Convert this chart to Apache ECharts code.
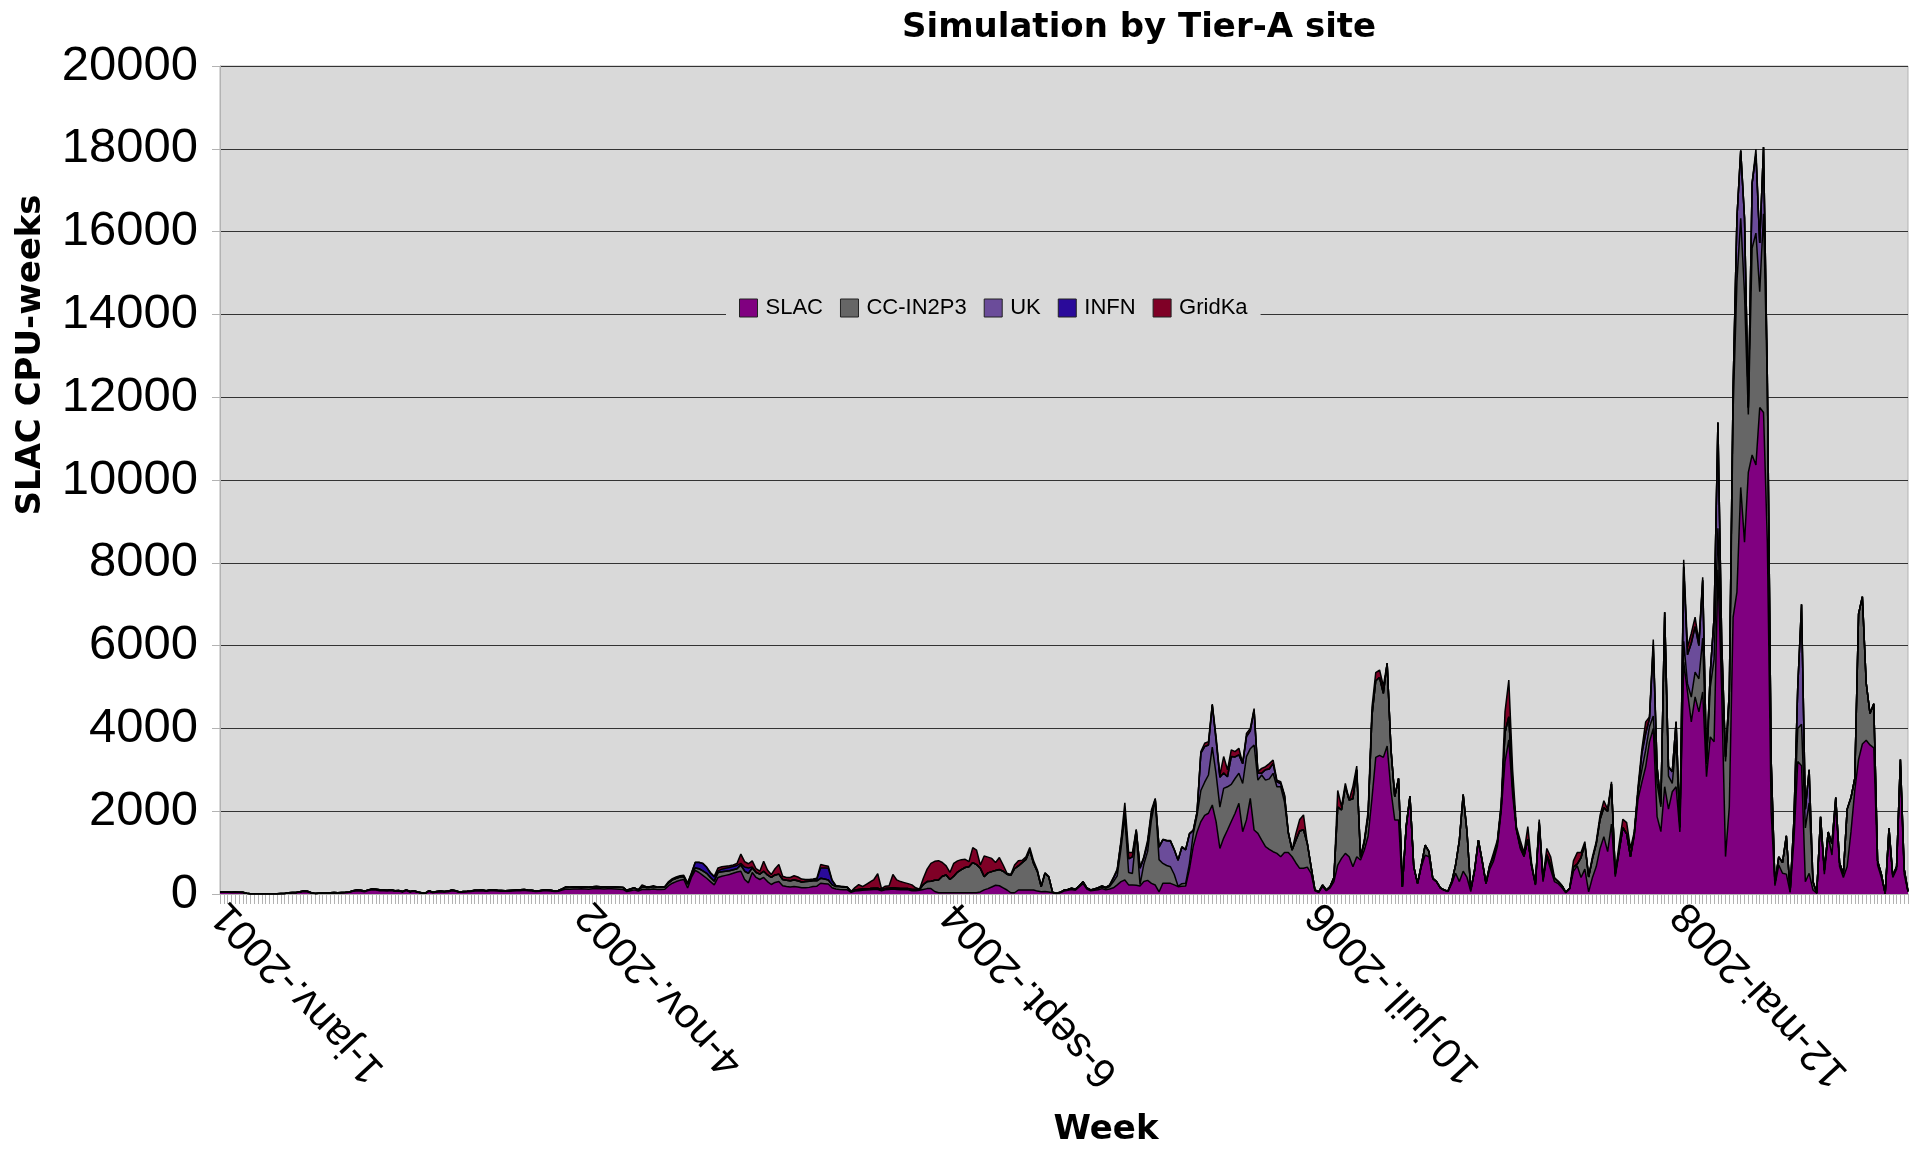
<!DOCTYPE html>
<html><head><meta charset="utf-8">
<script src="https://cdn.jsdelivr.net/npm/echarts@6/dist/echarts.min.js"></script>
<style>html,body{margin:0;padding:0;background:#fff}#chart{width:1920px;height:1149px}</style>
</head><body><div id="chart"></div>
<script>
// ---- categories: weekly, starting Monday 1 Jan 2001 ----
const N_WEEKS = 445;
const START_UTC = Date.UTC(2001, 0, 1);
const MONTHS_FR = ['janv.','févr.','mars','avr.','mai','juin','juil.','août','sept.','oct.','nov.','déc.'];
const weeks = [];
for (let i = 0; i < N_WEEKS; i++) {
  const d = new Date(START_UTC + i * 7 * 86400000);
  weeks.push(d.getUTCDate() + '-' + MONTHS_FR[d.getUTCMonth()] + '-' + d.getUTCFullYear());
}
const z = n => new Array(n).fill(0);

const seriesNames = ['SLAC', 'CC-IN2P3', 'UK', 'INFN', 'GridKa'];
const yTicks = [0, 2000, 4000, 6000, 8000, 10000, 12000, 14000, 16000, 18000, 20000];

const slac = [
40,45,40,35,40,35,30,15,5,4,
4,4,4,6,6,6,8,10,25,28,
28,45,60,55,25,12,16,20,24,24,
28,24,28,32,40,65,80,75,55,85,
100,95,80,80,75,85,65,70,50,85,
50,65,40,24,16,65,32,50,56,50,
56,80,65,40,48,52,60,72,72,76,
64,76,80,72,68,64,68,72,76,80,
88,76,72,60,64,76,76,72,60,68,
95,120,115,120,120,125,120,115,125,125,
125,120,125,125,120,115,110,60,80,100,
70,110,110,110,120,110,110,115,200,260,
300,330,350,145,400,570,520,450,380,300,
220,400,430,450,470,500,530,550,350,270,
520,400,350,400,300,230,280,300,200,180,
170,180,170,150,150,160,180,190,260,250,
240,150,120,110,105,100,40,70,80,90,
95,100,110,110,80,100,110,120,110,100,
100,100,80,80,90,110,130,130,60,30,
30,30,30,30,30,30,30,30,30,30,
50,100,130,170,210,200,150,97,30,30,
97,97,97,97,97,70,56,60,50,30,
12,30,70,90,110,90,170,250,120,80,
90,100,130,100,120,150,220,300,338,220,
217,210,195,300,330,258,217,50,258,258,
258,220,177,190,193,600,1150,1500,1750,1900,
1950,2150,1750,1100,1350,1545,1750,1950,2190,1505,
1790,2310,1545,1465,1300,1143,1080,1022,982,900,
1000,1000,900,750,620,620,650,500,80,40,
180,80,150,300,700,860,982,900,660,900,
820,1063,1400,2300,3300,3350,3300,3575,2500,1787,
1787,170,1600,2350,650,250,660,940,900,370,
290,145,90,60,250,500,300,550,400,60,
560,1290,780,250,600,800,1150,2000,3200,3720,
2400,1545,1100,900,1304,660,217,1700,300,900,
600,300,250,150,30,120,550,680,400,602,
50,400,663,1100,1386,1024,1687,420,1000,1600,
1450,900,1400,2300,2700,3073,3675,4000,1868,1506,
2591,2048,2470,2591,1500,5603,4880,4157,4760,4398,
4880,2832,3796,3675,7832,4880,904,2109,6688,7290,
9821,8495,10182,10604,10363,11750,11629,8500,2000,200,
700,500,480,40,1300,3200,3100,296,500,100,
18,1800,480,1400,942,2200,665,400,665,1500,
2500,3250,3622,3714,3600,3530,700,400,10,1497,
400,600,3100,480,60
];

const ccin2p3 = [
10,10,10,10,10,10,10,5,3,1,
1,1,1,2,2,2,2,2,5,7,
7,10,10,10,5,3,4,5,6,6,
7,6,7,8,10,15,15,15,15,15,
20,20,20,15,15,20,15,15,10,15,
10,15,10,6,4,15,8,10,14,10,
14,20,15,10,12,13,15,18,18,19,
16,19,20,18,17,16,17,18,19,20,
22,19,18,15,16,19,19,18,15,17,
25,50,50,50,50,50,50,50,50,55,
50,50,50,50,50,50,50,30,40,50,
30,60,50,50,60,50,55,55,70,80,
80,80,70,95,60,60,90,110,120,100,
90,120,110,100,90,85,80,150,200,230,
110,120,130,150,160,170,180,180,150,150,
150,160,150,140,150,150,140,130,120,110,
100,70,60,70,65,60,20,25,30,30,
30,30,30,30,30,30,30,30,30,30,
30,30,30,30,20,120,170,180,270,310,
400,430,320,400,500,560,610,630,730,680,
570,320,380,370,360,390,400,380,420,580,
580,660,740,960,640,470,120,440,360,10,
4,10,20,20,27,23,30,48,30,17,
30,40,40,40,60,150,220,800,1530,300,
280,1250,30,420,700,1530,2050,780,480,430,
400,250,10,60,65,140,300,400,750,800,
925,1400,1150,1000,1200,1045,900,840,725,1165,
1530,1200,2055,1285,1575,1607,1700,1893,1608,1690,
1220,480,163,550,900,930,570,150,20,10,
37,17,30,100,1400,1170,1608,1370,1640,2100,
60,200,500,2000,1850,1880,1545,1995,1000,563,
1003,7,26,17,10,8,40,243,122,8,
10,5,7,10,50,200,1000,1850,1100,37,
20,14,20,8,100,100,100,100,700,560,
200,20,50,20,20,20,20,30,50,50,
100,80,50,50,10,17,100,40,480,600,
360,450,550,700,700,970,970,60,50,0,
0,0,50,200,300,400,362,300,800,600,
4100,800,200,1100,100,500,200,600,600,800,
1300,300,1200,2000,1000,600,2300,2500,5000,7500,
6500,6000,1400,5000,5600,2800,4800,3800,1250,50,
196,258,924,25,400,800,1000,1300,1700,200,
0,66,93,97,278,130,93,80,1385,830,
290,3514,3558,1386,761,1062,100,80,0,93,
34,65,150,120,5
];

const uk = [].concat(z(230), [
0,10,23,20,30,80,130,150,80,330,
400,80,400,150,200,160,20,300,570,600,
620,600,630,880,810,710,80,70,900,860,
725,1015,820,720,370,240,670,520,445,480,
480,430,840,165,40,250,240,240,120,80,
150
], z(89), [
0,0,0,0,400,400,200,1700,400,64,
117,225,282,466,27,1800,700,1300,1100,800,
1400,61,366,1013,2555,605,110,271,542,1540,
1634,1835,168,1566,1900,1175,1611,190,0,0,
0,0,0,0,100,1000,2895,454,800
], z(26));

const infn = [].concat(z(124), [
40,130,150,175,145,100,100,40,60,70,80,80,80,40,100,130,20,10
], z(14), [
20,40,250,270,280,100,20
], z(282));

const gridka = [].concat(z(110), [
0,50,20,15,20,10,10,10,30,30,
30,30,30,30,0,5,5,5,5,20,
20,70,60,50,40,35,50,225,130,100,
150,80,70,240,120,70,150,230,80,70,
80,100,90,70,50,40,20,20,80,60,
50,20,0,10,10,10,0,60,115,60,
110,160,210,350,20,60,60,320,200,170,
145,120,110,40,5,150,300,430,460,465,
330,220,170,310,270,240,197,120,360,350,
80,498,380,320,190,290,150,23,20,90,
128,58,60,66,63,40,17,15,10,0,
0,0,0,0,0,0,0,0,0,0,
0,0,0,0,10,20,30,50,257,150,
103,20,15,30,70,80,23,20,12,12,
12,10,3,13,12,15,15,20,40,80,
80,25,80,55,400,170,160,130,160,5,
80,60,40,40,120,75,130,80,40,40,
30,20,0,165,280,360,0,10,0,0,
0,0,0,0,400,80,80,0,300,90,
20,41,100,200,200,180,178,0,0,0,
0,0,0,0,0,0,0,0,0,0,
0,0,0,0,0,0,0,0,0,0,
0,0,0,0,0,100,54,90,500,888,
400,61,150,80,302,60,21,70,50,150,
200,20,0,0,0,0,150,280,120,63,
12,50,52,100,167,54,54,20,150,207,
273,200,50,100,100,284,41,145,5,0,
0,0,0,0,0,170,185,243,228,87,
71,0,0,0,0,0,0,0,0,0,
0,0,0,0,127,0,0,0,0,0
], z(35));

const seriesData = [slac, ccin2p3, uk, infn, gridka];
const seriesColors = ['#800080', '#666666', '#6b4c9a', '#2a0a9a', '#7f0026'];

const chart = echarts.init(document.getElementById('chart'), null, {renderer: 'canvas', width: 1920, height: 1149});

const series = seriesNames.map((name, k) => ({
  name: name,
  type: 'line',
  stack: 'total',
  data: seriesData[k],
  symbol: 'none',
  showSymbol: false,
  smooth: false,
  lineStyle: {color: '#000', width: 1.5},
  areaStyle: {color: seriesColors[k], opacity: 1},
  itemStyle: {color: seriesColors[k]},
  emphasis: {disabled: true},
  animation: false
}));

chart.setOption({
  animation: false,
  backgroundColor: '#ffffff',
  title: {
    text: 'Simulation by Tier-A site',
    left: 897, top: 6,
    textStyle: {fontFamily: 'DejaVu Sans', fontWeight: 'bold', fontSize: 34, color: '#000'}
  },
  legend: {
    data: seriesNames,
    left: 726, top: 291,
    orient: 'horizontal',
    icon: 'rect',
    itemWidth: 18, itemHeight: 18, itemGap: 17,
    padding: [6, 13, 6, 13],
    backgroundColor: '#d9d9d9',
    itemStyle: {borderColor: '#222', borderWidth: 1},
    textStyle: {fontFamily: 'Liberation Sans', fontSize: 22, color: '#000', padding: [0, 0, 0, 3]},
    selectedMode: false
  },
  grid: {
    left: 220, right: 12, top: 66, bottom: 255,
    show: true, backgroundColor: '#d9d9d9', borderColor: '#b3b3b3', borderWidth: 1,
    containLabel: false, outerBoundsMode: 'none'
  },
  xAxis: {
    type: 'category', data: weeks, boundaryGap: false,
    axisLine: {show: true, lineStyle: {color: '#b3b3b3', width: 1}},
    axisTick: {show: true, interval: 0, length: 10, lineStyle: {color: '#b3b3b3', width: 1}},
    axisLabel: {interval: 95, rotate: 133, fontSize: 42, fontFamily: 'Liberation Sans', color: '#000', margin: 14, hideOverlap: false},
    splitLine: {show: false},
    name: 'Week', nameLocation: 'middle', nameGap: 219,
    nameTextStyle: {fontFamily: 'DejaVu Sans', fontWeight: 'bold', fontSize: 34, color: '#000', padding: [0, 0, 0, 84]}
  },
  yAxis: {
    type: 'value', min: 0, max: 20000, interval: 2000,
    axisLine: {show: true, lineStyle: {color: '#b3b3b3', width: 1}},
    axisTick: {show: true, length: 8, lineStyle: {color: '#b3b3b3'}},
    axisLabel: {fontSize: 49, fontFamily: 'Liberation Sans', color: '#000', margin: 22,
      formatter: v => yTicks.indexOf(v) >= 0 ? String(v) : ''},
    splitLine: {show: true, showMinLine: false, lineStyle: {color: '#333333', width: 1}},
    name: 'SLAC CPU-weeks', nameLocation: 'middle', nameGap: 172, nameRotate: 90,
    nameTextStyle: {fontFamily: 'DejaVu Sans', fontWeight: 'bold', fontSize: 34, color: '#000', padding: [0, 0, 0, 250]}
  },
  series: series
});
</script>
</body></html>
